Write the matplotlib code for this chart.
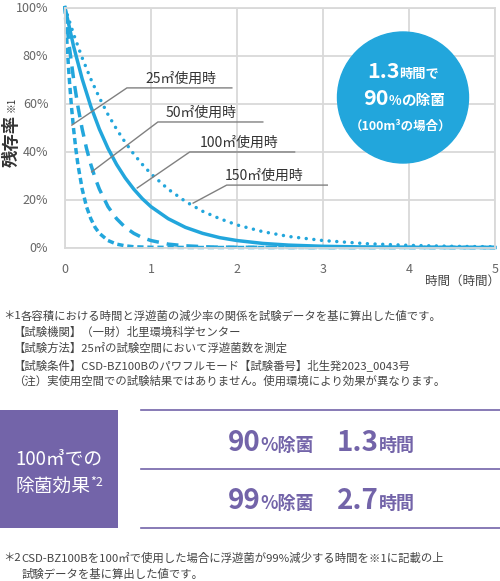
import numpy as np
import matplotlib
matplotlib.use('Agg')
import matplotlib.pyplot as plt
from matplotlib.transforms import Affine2D
from matplotlib.patches import Circle, Rectangle
from matplotlib.lines import Line2D

plt.rcParams['font.family'] = ['Noto Sans CJK JP', 'DejaVu Sans']

# ---- data (remaining ratio %, time in hours) ------------------------------------
t25 = [0, 0.025, 0.05, 0.075, 0.1, 0.125, 0.15, 0.2, 0.25, 0.3, 0.35, 0.4, 0.5,
       0.6, 0.7, 0.8, 1.0, 1.5, 2, 3, 5]
r25 = [100, 83.8, 70.2, 58.8, 49.3, 41.3, 34.6, 24.3, 17.0, 12.0, 8.4, 5.9, 2.9,
       1.4, 0.7, 0.3, 0.1, 0, 0, 0, 0]
t50 = [0, 0.05, 0.1, 0.15, 0.2, 0.25, 0.3, 0.35, 0.4, 0.5, 0.6, 0.7, 0.8, 0.9,
       1.0, 1.2, 1.4, 1.7, 2.0, 3, 5]
r50 = [100, 83.8, 70.2, 58.8, 49.3, 41.3, 34.6, 29.0, 24.3, 17.0, 12.0, 8.4, 5.9,
       4.1, 2.9, 1.4, 0.7, 0.2, 0.1, 0, 0]
t100 = [0, 0.1, 0.2, 0.3, 0.4, 0.5, 0.6, 0.7, 0.8, 0.9, 1.0, 1.2, 1.4, 1.6, 1.8,
        2.0, 2.3, 2.6, 3.0, 3.5, 4, 5]
r100 = [100, 83.8, 70.2, 58.8, 49.3, 41.3, 34.6, 29.0, 24.3, 20.3, 17.0, 12.0, 8.4,
        5.9, 4.1, 2.9, 1.7, 1.0, 0.5, 0.2, 0.1, 0]
t150 = [0, 0.1, 0.2, 0.3, 0.4, 0.5, 0.6, 0.7, 0.8, 0.9, 1.0, 1.2, 1.4, 1.6, 1.8,
        2.0, 2.3, 2.6, 3.0, 3.5, 4.0, 4.5, 5.0]
r150 = [100, 88.9, 79.0, 70.2, 62.4, 55.4, 49.3, 43.8, 38.9, 34.6, 30.7, 24.3, 19.2,
        15.1, 12.0, 9.4, 6.6, 4.6, 2.9, 1.6, 0.9, 0.5, 0.3]

labels = ['25㎡使用時', '50㎡使用時', '100㎡使用時', '150㎡使用時']
xticks = [0, 1, 2, 3, 4, 5]
yticks = [0, 20, 40, 60, 80, 100]
ytick_labels = ['0%', '20%', '40%', '60%', '80%', '100%']

notes1 = ['各容積における時間と浮遊菌の減少率の関係を試験データを基に算出した値です。',
          '【試験機関】（一財）北里環境科学センター',
          '【試験方法】25㎡の試験空間において浮遊菌数を測定',
          '【試験条件】CSD-BZ100Bのパワフルモード【試験番号】北生発2023_0043号',
          '（注）実使用空間での試験結果ではありません。使用環境により効果が異なります。']
notes2 = ['CSD-BZ100Bを100㎡で使用した場合に浮遊菌が99%減少する時間を※1に記載の上',
          '試験データを基に算出した値です。']
rows = [('90', '1.3'), ('99', '2.7')]

BLUE = '#22a6dc'
PURPLE = '#7364a9'
GRID = '#d9d9d9'
NOTE = '#444444'
W, H = 500, 581

fig = plt.figure(figsize=(W/100, H/100), dpi=100)
fig.patch.set_facecolor('white')
PX = Affine2D().scale(1/W, -1/H).translate(0, 1) + fig.transFigure   # top-left pixels

# ---- chart --------------------------------------------------------------------------
ax = fig.add_axes([65/W, 1 - 247.5/H, 430/W, 240/H])
ax.set_xlim(0, 5); ax.set_ylim(0, 100)
ax.set_xticks(xticks); ax.set_yticks(yticks)
ax.set_yticklabels(ytick_labels)
ax.grid(color=GRID, lw=1.3)
ax.set_axisbelow(True)
for sp in ax.spines.values():
    sp.set_color(GRID); sp.set_linewidth(1.3)
ax.tick_params(length=0, labelsize=9, labelcolor='#666666')
ax.tick_params(axis='y', pad=12)
ax.tick_params(axis='x', pad=11)

lw = 2.5
ax.plot(t150, r150, color=BLUE, lw=lw, dashes=(0.01, 2.2), dash_capstyle='round',
        clip_on=False)
ax.plot(t100, r100, color=BLUE, lw=lw, clip_on=False)
ax.plot(t50, r50, color=BLUE, lw=lw, dashes=(3.4, 2.3), clip_on=False)
ax.plot(t25, r25, color=BLUE, lw=lw, dashes=(1.8, 1.1), clip_on=False)

# callouts: (pointer tip, elbow, line end, text pos)
callouts = [((0.08, 51), (0.72, 66.5), 1.94, (0.93, 70.5)),
            ((0.31, 31.5), (1.08, 52.3), 2.30, (1.17, 56.0)),
            ((0.84, 24.8), (1.45, 39.8), 2.67, (1.57, 43.5)),
            ((1.49, 18.5), (1.88, 26.0), 3.05, (1.86, 30.0))]
for lab, (tip, elb, xend, tpos) in zip(labels, callouts):
    ax.plot([tip[0], elb[0], xend], [tip[1], elb[1], elb[1]], color='#808080',
            lw=1.0, clip_on=False)
    ax.text(tpos[0], tpos[1], lab, fontsize=10, color='#333333', va='center')

fig.text(12, 141, '残存率', transform=PX, rotation=90, fontsize=12.5,
         fontweight='bold', color='#333333', ha='center', va='center')
fig.text(12, 104, '※1', transform=PX, rotation=90, fontsize=7,
         color='#333333', ha='center', va='center')
fig.text(500, 281, '時間（時間）', transform=PX, fontsize=9, color='#444444',
         ha='right', va='center')

renderer = fig.canvas.get_renderer()


def rich(x, y, parts, color, ha='left'):
    objs, cx = [], x
    for p in parts:
        s, size, weight = p[:3]
        dy = p[3] if len(p) > 3 else 0
        t = fig.text(cx, y - dy, s, transform=PX, fontsize=size, fontweight=weight,
                     color=color, ha='left', va='baseline', zorder=5)
        cx += t.get_window_extent(renderer).width
        objs.append(t)
    if ha == 'center':
        dx = (cx - x) / 2
        for t in objs:
            px_, py_ = t.get_position()
            t.set_position((px_ - dx, py_))


def note(x, y, s, size=8.2):
    # a leading full-width bracket has its ink in the right half of the em box
    if s[0] in '【（':
        x -= 8
    fig.text(x, y, s, transform=PX, fontsize=size, color=NOTE, va='center')


# ---- circle badge -------------------------------------------------------------------
fig.add_artist(Circle((403, 97.5), 65.5, transform=PX, color=BLUE, zorder=4))
rich(403, 78, [('1.3', 15.5, 'bold'), ('時間で', 9.5, 'bold')], 'white', 'center')
rich(404, 105, [('90', 15.5, 'bold'), ('%', 9.5, 'bold'), ('の除菌', 10.5, 'bold')],
     'white', 'center')
rich(401, 130, [('（100m³の場合）', 9, 'bold')], 'white', 'center')

# ---- notes *1 -----------------------------------------------------------------------
fig.text(3, 316, '＊1', transform=PX, fontsize=8.2, color=NOTE, va='center')
for i, line in enumerate(notes1):
    note(21, 316 + i * 16.3, line)

# ---- effect box ---------------------------------------------------------------------
fig.add_artist(Rectangle((0, 410), 118, 118, transform=PX, color=PURPLE, lw=0))
rich(59, 464, [('100㎥での', 13.5, 'normal')], 'white', 'center')
rich(59, 492, [('除菌効果', 13.5, 'normal'), ('*2', 9, 'normal', 6)], 'white', 'center')
for yl in (410, 469, 528):
    fig.add_artist(Line2D([141, 500], [yl, yl], transform=PX, color=PURPLE, lw=1.2))
for (pct, hrs), yb in zip(rows, (451, 509)):
    rich(228, yb, [(pct, 20, 'bold'), ('%除菌', 13, 'bold')], PURPLE)
    rich(337, yb, [(hrs, 20, 'bold'), ('時間', 13, 'bold')], PURPLE)

# ---- notes *2 -----------------------------------------------------------------------
fig.text(3, 558, '＊2', transform=PX, fontsize=8.2, color=NOTE, va='center')
note(21, 558, notes2[0])
note(22, 574, notes2[1])

fig.savefig('out.png', dpi=100, facecolor='white')
